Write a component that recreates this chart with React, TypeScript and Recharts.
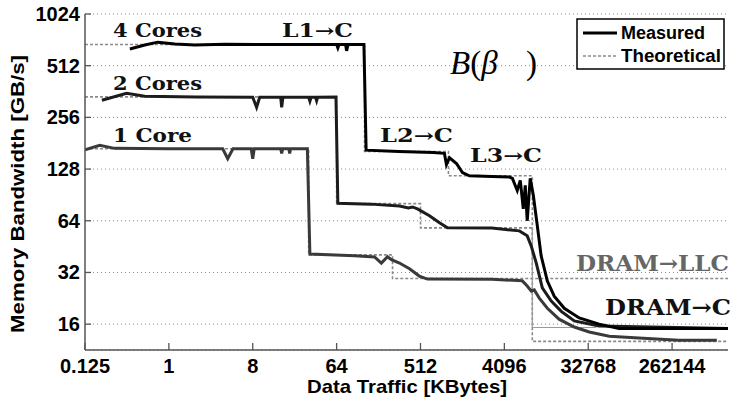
import { LineChart, Line, XAxis, YAxis, CartesianGrid } from "recharts"

const X_TICKS = [0.125, 1, 8, 64, 512, 4096, 32768, 262144]
const Y_TICKS = [16, 32, 64, 128, 256, 512, 1024]

// measured bandwidth, 4 cores (KB -> GB/s)
const cores4Kb = [0.38, 0.55, 0.76, 1.16, 1.9, 4, 16, 60, 64, 66, 68, 80, 82, 85, 126, 133, 300, 700, 927, 975, 1050, 1250, 1450, 1720, 3000, 4640, 5000, 5640, 6080, 6550, 6880, 7220, 7780, 8400, 9270, 10200, 11900, 14100, 18100, 26200, 42900, 70300, 1048576]
const cores4Bw = [640, 675, 702, 685, 675, 682, 680, 680, 680, 650, 680, 680, 625, 680, 680, 165, 162, 160, 158, 136, 149, 138, 122, 117, 116, 115, 113, 96, 110, 75, 103, 64, 113, 90, 60, 40, 28.5, 23.3, 19.8, 17.4, 16, 15.1, 15.1]

// measured, 2 cores
const cores2Kb = [0.19, 0.35, 0.55, 2, 8.0, 8.8, 9.5, 16.0, 16.4, 16.9, 32, 33, 34, 38, 39, 40, 63, 66, 150, 304, 380, 420, 475, 640, 820, 1000, 3000, 5950, 7220, 7970, 9040, 10500, 13100, 16800, 23200, 42900, 1048576]
const cores2Bw = [322, 354, 340, 337, 335, 293, 335, 335, 293, 335, 335, 318, 335, 335, 320, 335, 336, 81, 80, 78, 76, 77, 75, 68.5, 62.3, 58.2, 58, 55.9, 52.3, 45.7, 36.3, 26, 21.8, 19, 16.7, 15.6, 15.1]

// measured, 1 core
const core1Kb = [0.125, 0.18, 0.26, 1, 3.8, 4.3, 4.9, 7.7, 8.0, 8.3, 16.0, 16.4, 16.8, 19.6, 20, 20.4, 31, 33, 100, 164, 194, 226, 249, 304, 390, 497, 608, 3000, 6390, 7220, 8000, 8600, 9740, 11900, 15900, 23200, 33600, 55100, 115000, 310000, 795000]
const core1Bw = [166, 176, 169, 168, 168, 147, 168, 168, 147, 168, 168, 158, 168, 168, 158, 168, 168, 41, 40, 39.4, 36.3, 39.5, 38, 36.3, 33.6, 30.5, 29.3, 29.2, 28.6, 26.7, 24.9, 25.3, 22.7, 19.8, 17.1, 15.4, 14.4, 13.6, 13.3, 12.9, 12.9]

// theoretical steps
const theo4Kb = [0.125, 128, 128, 1024, 1024, 8192, 8192, 1048576]
const theo4Bw = [680, 680, 162, 162, 117, 117, 12.7, 12.7]
const theo2Kb = [0.125, 64, 64, 512, 512, 8192]
const theo2Bw = [337, 337, 80.5, 80.5, 58.2, 58.2]
const theo1Kb = [0.125, 32, 32, 256, 256, 1048576]
const theo1Bw = [168, 168, 40.5, 40.5, 29.5, 29.5]
const llcKb = [8192, 8192, 40000]
const llcBw = [58, 15.3, 15.3]

const toPoints = (xs: number[], ys: number[]) => xs.map((x, i) => ({ x, y: ys[i] }))

const SANS = "'Liberation Sans', Arial, sans-serif"
const SERIF = "'DejaVu Serif', serif"
const MATH = "'Liberation Serif', serif"

const theoStyle = { stroke: "#8a8a8a", strokeWidth: 1.6, strokeDasharray: "3 2" }

const series = [
  { name: "theo4", pts: toPoints(theo4Kb, theo4Bw), ...theoStyle },
  { name: "theo2", pts: toPoints(theo2Kb, theo2Bw), ...theoStyle },
  { name: "theo1", pts: toPoints(theo1Kb, theo1Bw), ...theoStyle },
  { name: "llc", pts: toPoints(llcKb, llcBw), stroke: "#9a9a9a", strokeWidth: 1.2, strokeDasharray: undefined },
  { name: "core1", pts: toPoints(core1Kb, core1Bw), stroke: "#3a3a3a", strokeWidth: 3, strokeDasharray: undefined },
  { name: "cores2", pts: toPoints(cores2Kb, cores2Bw), stroke: "#1c1c1c", strokeWidth: 3, strokeDasharray: undefined },
  { name: "cores4", pts: toPoints(cores4Kb, cores4Bw), stroke: "#000", strokeWidth: 3, strokeDasharray: undefined },
]

const XTick = ({ x, y, payload }: any) => (
  <g>
    <line x1={x} x2={x} y1={y - 8} y2={y - 15} stroke="#555" strokeWidth={1.3} />
    <text x={x} y={y + 15} textAnchor="middle" fontFamily={SANS} fontWeight="bold" fontSize={20} fill="#000">
      {payload.value}
    </text>
  </g>
)

const YTick = ({ y, payload }: any) => (
  <g>
    <line x1={85} x2={91} y1={y} y2={y} stroke="#555" strokeWidth={1.3} />
    <text x={80} y={y + 7} textAnchor="end" fontFamily={SANS} fontWeight="bold" fontSize={20} fill="#000">
      {payload.value}
    </text>
  </g>
)

const note = (label: string, x: number, y: number, len: number, size = 18, fill = "#111") => (
  <text x={x} y={y} fontFamily={SERIF} fontWeight="bold" fontSize={size} fill={fill} textLength={len} lengthAdjust="spacingAndGlyphs">
    {label}
  </text>
)

export default function App() {
  return (
    <div style={{ position: "relative", width: 735, height: 403 }}>
      <style>{"body{margin:0}"}</style>
      <LineChart width={735} height={403} margin={{ top: 14, right: 7, bottom: 0, left: 0 }}>
        <CartesianGrid vertical={false} stroke="#888" strokeDasharray="1 3" />
        <XAxis
          dataKey="x"
          type="number"
          scale="log"
          domain={[0.125, 1048576]}
          allowDataOverflow
          ticks={X_TICKS}
          height={53}
          tick={<XTick />}
          tickLine={false}
          axisLine={{ stroke: "#555", strokeWidth: 1.5 }}
        />
        <YAxis
          type="number"
          scale="log"
          domain={[11.3137, 1024]}
          allowDataOverflow
          ticks={Y_TICKS}
          width={85}
          tick={<YTick />}
          tickLine={false}
          axisLine={{ stroke: "#555", strokeWidth: 1.5 }}
        />
        {series.map((s) => (
          <Line
            key={s.name}
            data={s.pts}
            dataKey="y"
            type="linear"
            dot={false}
            activeDot={false}
            stroke={s.stroke}
            strokeWidth={s.strokeWidth}
            strokeDasharray={s.strokeDasharray}
            isAnimationActive={false}
          />
        ))}
      </LineChart>
      <svg width={735} height={403} style={{ position: "absolute", left: 0, top: 0, pointerEvents: "none" }}>
        <text
          transform="translate(24,194) rotate(-90)"
          textAnchor="middle"
          fontFamily={SANS}
          fontWeight="bold"
          fontSize={19}
          textLength={278}
          lengthAdjust="spacingAndGlyphs"
        >
          Memory Bandwidth [GB/s]
        </text>
        <text x={407} y={393} textAnchor="middle" fontFamily={SANS} fontWeight="bold" fontSize={19} textLength={200} lengthAdjust="spacingAndGlyphs">
          Data Traffic [KBytes]
        </text>
        <g>
          <rect x={577} y={19} width={147} height={50} fill="#fff" stroke="#000" strokeWidth={1.5} />
          <line x1={583} x2={617} y1={33} y2={33} stroke="#000" strokeWidth={3} />
          <line x1={583} x2={617} y1={56} y2={56} stroke="#8a8a8a" strokeWidth={1.6} strokeDasharray="3 2" />
          <text x={621} y={39} fontFamily={SANS} fontWeight="bold" fontSize={18} textLength={84} lengthAdjust="spacingAndGlyphs">Measured</text>
          <text x={621} y={62} fontFamily={SANS} fontWeight="bold" fontSize={18} textLength={100} lengthAdjust="spacingAndGlyphs">Theoretical</text>
        </g>
        {note("4 Cores", 113, 37, 89)}
        {note("2 Cores", 113, 90, 89)}
        {note("1 Core", 113, 142, 79)}
        {note("L1→C", 282, 37, 71)}
        {note("L2→C", 380, 142, 73)}
        {note("L3→C", 470, 162, 72)}
        {note("DRAM→LLC", 576, 271, 153, 22, "#666")}
        {note("DRAM→C", 605, 315, 126, 22, "#111")}
        <text x={450} y={74} fontFamily={MATH} fontSize={33} fill="#000">
          <tspan fontStyle="italic">B</tspan>
          <tspan>(</tspan>
          <tspan fontStyle="italic">β</tspan>
        </text>
        <text x={526} y={74} fontFamily={MATH} fontSize={33} fill="#000">)</text>
      </svg>
    </div>
  )
}
